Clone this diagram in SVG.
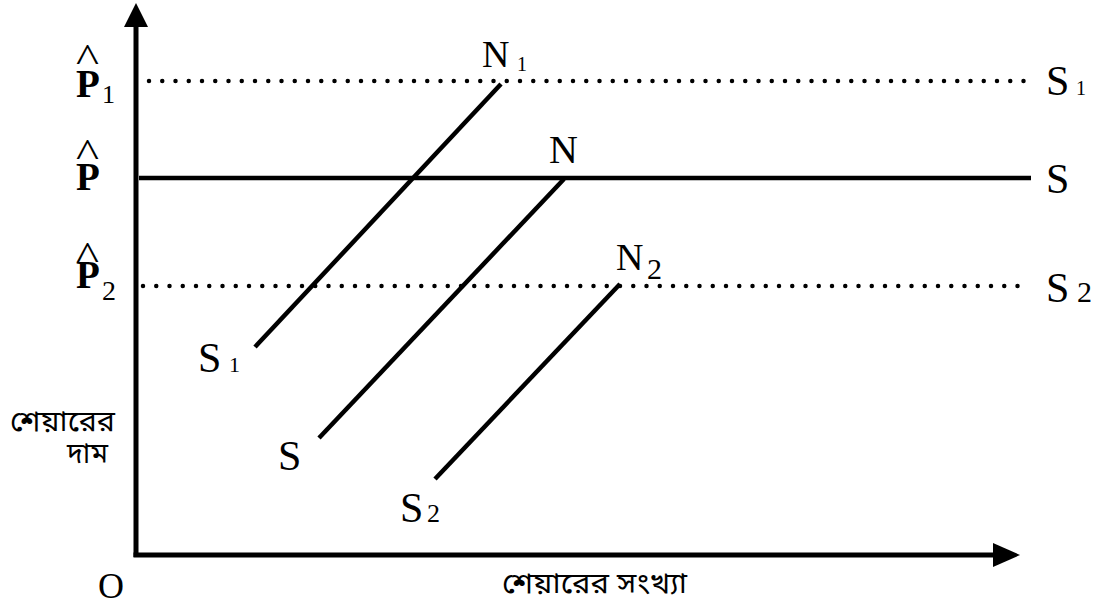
<svg xmlns="http://www.w3.org/2000/svg" width="1102" height="614" viewBox="0 0 1102 614">
<style>
.ax{stroke:#000;stroke-width:5;fill:none}
.ln{stroke:#000;stroke-width:4.5;fill:none;stroke-linecap:butt}
.dot{stroke:#000;stroke-width:4.5;fill:none;stroke-linecap:round;stroke-dasharray:0 13.25}
.t{font-family:"Liberation Serif","Times New Roman",serif;fill:#000}
.b{font-weight:bold}
.hat{font-family:"Liberation Serif","Times New Roman",serif;fill:#000;font-size:40px}
.bn{font-family:"Noto Sans Bengali","Noto Serif Bengali","Lohit Bengali","Noto Sans",sans-serif;fill:#000;font-size:28px}
</style>
<rect width="1102" height="614" fill="#fff"/>
<g id="axes">
<line class="ax" x1="136" y1="25" x2="136" y2="557"/>
<line class="ax" x1="133.5" y1="555" x2="996" y2="555"/>
<polygon points="136,3 124,27 148,27" fill="#000"/>
<polygon points="1020,555 993,543 993,567" fill="#000"/>
</g>
<g id="connectors">
<line class="dot" x1="149" y1="81" x2="1026" y2="81"/>
<line class="ln" x1="139" y1="178" x2="1031" y2="178" stroke-width="4"/>
<line class="dot" x1="143" y1="286" x2="1019" y2="286"/>
<line class="ln" x1="255" y1="347" x2="501" y2="84"/>
<line class="ln" x1="319" y1="438" x2="564" y2="179"/>
<line class="ln" x1="435" y1="479" x2="620" y2="284"/>
</g>
<g id="p1">
<text class="hat" x="76" y="72" textLength="23" lengthAdjust="spacingAndGlyphs">^</text>
<text class="t b" x="76" y="97" font-size="39">P</text>
<text class="t" x="102" y="103" font-size="26">1</text>
</g>
<g id="p">
<text class="hat" x="76" y="167" textLength="23" lengthAdjust="spacingAndGlyphs">^</text>
<text class="t b" x="76" y="190" font-size="39">P</text>
</g>
<g id="p2">
<text class="hat" x="76" y="270" textLength="23" lengthAdjust="spacingAndGlyphs">^</text>
<text class="t b" x="76" y="288" font-size="39">P</text>
<text class="t" x="102" y="300" font-size="28">2</text>
</g>
<g id="n1">
<text class="t" x="482" y="67" font-size="38">N</text>
<text class="t" x="517" y="71" font-size="20">1</text>
</g>
<g id="n">
<text class="t" x="549" y="163" font-size="40">N</text>
</g>
<g id="n2">
<text class="t" x="616" y="270" font-size="38">N</text>
<text class="t" x="647" y="279" font-size="30">2</text>
</g>
<g id="s1-right">
<text class="t" x="1046" y="95" font-size="42">S</text>
<text class="t" x="1076" y="95" font-size="20">1</text>
</g>
<g id="s-right">
<text class="t" x="1046" y="193" font-size="42">S</text>
</g>
<g id="s2-right">
<text class="t" x="1046" y="302" font-size="42">S</text>
<text class="t" x="1077" y="302" font-size="30">2</text>
</g>
<g id="s1-low">
<text class="t" x="198" y="372" font-size="42">S</text>
<text class="t" x="229" y="372" font-size="22">1</text>
</g>
<g id="s-low">
<text class="t" x="278" y="470" font-size="42">S</text>
</g>
<g id="s2-low">
<text class="t" x="400" y="522" font-size="42">S</text>
<text class="t" x="427" y="522" font-size="26">2</text>
</g>
<g id="origin">
<text class="t" x="98" y="598" font-size="36">O</text>
</g>
<g id="y-label">
<text class="bn" x="10" y="431" textLength="105" lengthAdjust="spacingAndGlyphs">শেয়ারের</text>
<text class="bn" x="67" y="463" textLength="41" lengthAdjust="spacingAndGlyphs">দাম</text>
</g>
<g id="x-label">
<text class="bn" x="502" y="593" textLength="185" lengthAdjust="spacingAndGlyphs">শেয়ারের সংখ্যা</text>
</g>
</svg>
